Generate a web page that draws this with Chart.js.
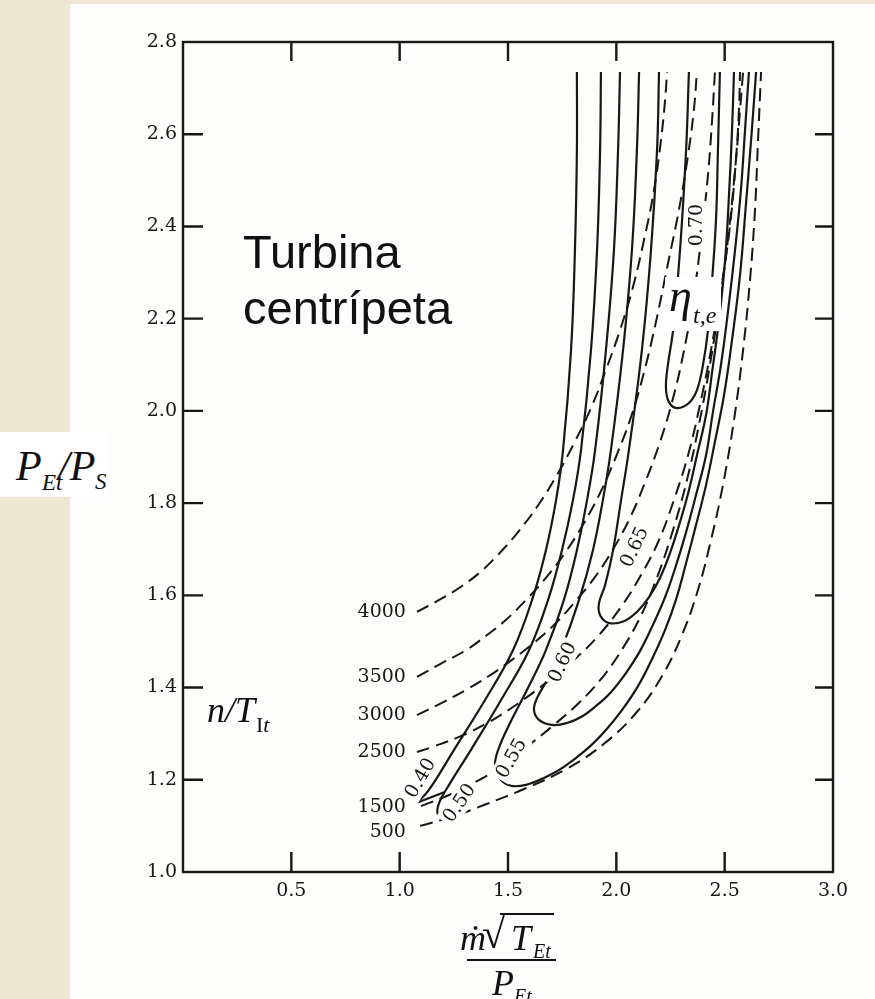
<!DOCTYPE html>
<html lang="pt-BR">
  <head>
    <meta charset="UTF-8" />
    <title>Turbina centrípeta</title>
    <script src="https://cdn.jsdelivr.net/npm/chart.js"></script>
    <style>
      body { margin: 0; width: 875px; height: 999px; background: #efe7d3; position: relative; overflow: hidden; }
      #folha { position: absolute; left: 70px; top: 4px; width: 805px; height: 995px; background: #fdfdfb; }
      #grafico { position: absolute; left: 0; top: 0; }
      .t { position: absolute; color: #111; font-family: "Liberation Serif", serif; font-style: italic; white-space: nowrap; line-height: 1; }
      .caixa { position: absolute; background: #fff; }
      .linha { position: absolute; border-top: 2px solid #111; height: 0; }
    </style>
  </head>
  <body>
    <div id="folha"></div>
    <canvas id="grafico" width="875" height="999"></canvas>

    <div class="t" style="left:243px;top:224px;font:47px 'Liberation Sans',sans-serif;line-height:56px;font-style:normal">Turbina<br />centrípeta</div>

    <div class="caixa" style="left:665px;top:277px;width:56px;height:54px"></div>
    <div class="t" style="left:669px;top:273px;font-size:46px">η</div>
    <div class="t" style="left:693px;top:303px;font-size:24px">t,e</div>

    <div class="caixa" style="left:0;top:432px;width:110px;height:65px"></div>
    <div class="t" style="left:16px;top:445px;font-size:42px">P</div>
    <div class="t" style="left:42px;top:471px;font-size:23px">Et</div>
    <div class="t" style="left:58px;top:445px;font-size:42px">/P</div>
    <div class="t" style="left:95px;top:470px;font-size:23px">S</div>

    <div class="t" style="left:207px;top:692px;font-size:36px">n/T</div>
    <div class="t" style="left:256px;top:714px;font-size:22px"><span style="font-style:normal">I</span>t</div>

    <div class="t" style="left:460px;top:920px;font-size:36px">ṁ</div>
    <div class="t" style="left:482px;top:913px;font-size:42px;font-style:normal">√</div>
    <div class="linha" style="left:500px;top:913px;width:54px"></div>
    <div class="t" style="left:511px;top:920px;font-size:36px">T</div>
    <div class="t" style="left:533px;top:941px;font-size:20px">Et</div>
    <div class="linha" style="left:467px;top:959px;width:89px"></div>
    <div class="t" style="left:492px;top:965px;font-size:36px">P</div>
    <div class="t" style="left:514px;top:986px;font-size:20px">Et</div>
  </body>
</html>

<script>
  const ticksX = [0.5, 1.0, 1.5, 2.0, 2.5, 3.0];
  const ticksY = [1.0, 1.2, 1.4, 1.6, 1.8, 2.0, 2.2, 2.4, 2.6, 2.8];

  // linhas cheias: rendimento (eta t,e)
  const curva040 = [[1.818,2.735],[1.818,2.566],[1.809,2.349],[1.791,2.132],[1.754,1.915],[1.722,1.807],[1.675,1.698],[1.611,1.590],[1.523,1.481],[1.394,1.373],[1.251,1.265],[1.135,1.178],[1.080,1.150]];
  const gancho040 = [[1.080,1.150],[1.205,1.173]];
  const curva050 = [[1.929,2.735],[1.925,2.566],[1.911,2.349],[1.883,2.132],[1.837,1.915],[1.800,1.807],[1.749,1.698],[1.685,1.590],[1.597,1.481],[1.468,1.373],[1.329,1.265],[1.228,1.189],[1.182,1.150],[1.177,1.124],[1.218,1.108]];
  const curva055 = [[2.017,2.735],[2.008,2.566],[1.989,2.349],[1.952,2.132],[1.902,1.915],[1.865,1.807],[1.818,1.698],[1.758,1.590],[1.675,1.481],[1.588,1.395],[1.505,1.319],[1.458,1.269],[1.440,1.232],[1.463,1.202],[1.514,1.187],[1.583,1.189],[1.666,1.204],[1.758,1.228],[1.865,1.267],[1.948,1.306],[2.026,1.351],[2.100,1.403],[2.165,1.462],[2.225,1.525],[2.275,1.590],[2.322,1.670],[2.368,1.753],[2.414,1.839],[2.455,1.933],[2.497,2.034],[2.534,2.154],[2.571,2.295],[2.598,2.447],[2.622,2.587],[2.645,2.735]];
  const curva060 = [[2.105,2.735],[2.095,2.566],[2.072,2.349],[2.031,2.132],[1.975,1.915],[1.938,1.807],[1.892,1.698],[1.828,1.590],[1.745,1.481],[1.680,1.416],[1.634,1.377],[1.620,1.351],[1.643,1.330],[1.703,1.319],[1.772,1.323],[1.837,1.336],[1.906,1.360],[1.975,1.390],[2.045,1.432],[2.109,1.479],[2.169,1.536],[2.225,1.596],[2.275,1.664],[2.322,1.737],[2.368,1.818],[2.414,1.904],[2.446,1.998],[2.483,2.100],[2.515,2.214],[2.548,2.349],[2.575,2.479],[2.594,2.609],[2.612,2.735]];
  const curva065 = [[2.197,2.735],[2.188,2.566],[2.160,2.349],[2.118,2.132],[2.058,1.915],[2.022,1.807],[1.985,1.698],[1.948,1.622],[1.920,1.583],[1.925,1.557],[1.966,1.540],[2.035,1.544],[2.095,1.564],[2.151,1.596],[2.202,1.638],[2.248,1.692],[2.294,1.759],[2.335,1.828],[2.372,1.904],[2.414,1.991],[2.442,2.084],[2.474,2.197],[2.502,2.327],[2.520,2.468],[2.534,2.609],[2.543,2.735]];
  const curva070 = [[2.335,2.735],[2.322,2.566],[2.294,2.349],[2.262,2.175],[2.238,2.100],[2.229,2.050],[2.243,2.019],[2.280,2.006],[2.335,2.017],[2.372,2.045],[2.400,2.100],[2.423,2.175],[2.442,2.284],[2.460,2.414],[2.469,2.566],[2.478,2.735]];

  // linhas tracejadas: rotação n/T
  const vel4000 = [[1.080,1.564],[1.182,1.590],[1.274,1.616],[1.366,1.648],[1.458,1.690],[1.551,1.740],[1.643,1.798],[1.726,1.861],[1.805,1.930],[1.883,2.006],[1.952,2.089],[2.017,2.175],[2.077,2.269],[2.128,2.371],[2.174,2.479],[2.206,2.587],[2.225,2.674],[2.234,2.735]];
  const vel3500 = [[1.080,1.423],[1.195,1.453],[1.306,1.481],[1.398,1.512],[1.491,1.547],[1.583,1.590],[1.675,1.638],[1.763,1.692],[1.846,1.753],[1.925,1.822],[1.998,1.900],[2.068,1.987],[2.128,2.084],[2.183,2.193],[2.234,2.310],[2.289,2.436],[2.331,2.555],[2.358,2.653],[2.372,2.735]];
  const vel3000 = [[1.080,1.340],[1.195,1.367],[1.306,1.395],[1.412,1.425],[1.518,1.460],[1.620,1.497],[1.717,1.538],[1.809,1.586],[1.902,1.640],[1.985,1.700],[2.063,1.768],[2.132,1.844],[2.197,1.926],[2.257,2.019],[2.308,2.121],[2.354,2.240],[2.391,2.371],[2.423,2.512],[2.442,2.631],[2.455,2.735]];
  const vel2500 = [[1.080,1.260],[1.149,1.271],[1.274,1.293],[1.412,1.325],[1.551,1.367],[1.680,1.412],[1.805,1.460],[1.920,1.514],[2.022,1.575],[2.114,1.644],[2.197,1.720],[2.266,1.807],[2.331,1.904],[2.386,2.013],[2.437,2.132],[2.483,2.262],[2.525,2.403],[2.552,2.544],[2.566,2.653],[2.571,2.735]];
  const vel1500 = [[1.098,1.143],[1.228,1.167],[1.357,1.197],[1.482,1.232],[1.597,1.275],[1.712,1.319],[1.828,1.367],[1.934,1.421],[2.031,1.486],[2.118,1.560],[2.192,1.644],[2.262,1.742],[2.326,1.850],[2.381,1.969],[2.432,2.100],[2.478,2.240],[2.520,2.392],[2.552,2.544],[2.571,2.653],[2.585,2.735]];
  const vel500 = [[1.094,1.100],[1.251,1.121],[1.398,1.147],[1.574,1.180],[1.768,1.223],[1.943,1.278],[2.095,1.347],[2.211,1.425],[2.303,1.514],[2.377,1.612],[2.437,1.720],[2.492,1.839],[2.543,1.980],[2.585,2.132],[2.617,2.284],[2.640,2.436],[2.654,2.587],[2.668,2.735]];

  // rótulos das curvas
  const rotulosVel = ["4000", "3500", "3000", "2500", "1500", "500"];
  const rotulosVelY = [1.564, 1.423, 1.340, 1.260, 1.141, 1.087];
  const rotulosVelX = 1.029;
  const rotulosEf = ["0.40", "0.50", "0.55", "0.60", "0.65", "0.70"];
  const rotulosEfX = [1.094, 1.274, 1.514, 1.749, 2.082, 2.368];
  const rotulosEfY = [1.204, 1.150, 1.247, 1.455, 1.705, 2.403];
  const rotulosEfAng = [-60, -55, -60, -65, -65, -90];

  const tinta = "#181716";
  const fonteNum = "DejaVu Serif";

  function serie(dados, tracejada) {
    return {
      data: dados.map((p) => ({ x: p[0], y: p[1] })),
      showLine: true,
      borderColor: tinta,
      borderWidth: tracejada ? 2 : 2.2,
      borderDash: tracejada ? [13, 7] : [],
      pointRadius: 0,
      tension: 0.4,
      fill: false,
    };
  }

  const moldura = {
    id: "moldura",
    afterDatasetsDraw(chart) {
      const { ctx, chartArea: a, scales } = chart;
      const x = scales.x;
      const y = scales.y;
      ctx.save();
      ctx.strokeStyle = tinta;
      ctx.lineWidth = 2.4;
      ctx.strokeRect(a.left, a.top, a.right - a.left, a.bottom - a.top);
      ctx.beginPath();
      ticksX.slice(0, -1).forEach((v) => {
        const px = x.getPixelForValue(v);
        ctx.moveTo(px, a.bottom);
        ctx.lineTo(px, a.bottom - 20);
        ctx.moveTo(px, a.top);
        ctx.lineTo(px, a.top + 19);
      });
      ticksY.slice(1, -1).forEach((v) => {
        const py = y.getPixelForValue(v);
        ctx.moveTo(a.left, py);
        ctx.lineTo(a.left + 20, py);
        ctx.moveTo(a.right, py);
        ctx.lineTo(a.right - 18, py);
      });
      ctx.stroke();

      ctx.fillStyle = tinta;
      ctx.font = '19px "' + fonteNum + '"';
      ctx.textAlign = "right";
      ctx.textBaseline = "middle";
      for (let i = 0; i < rotulosVel.length; i++) {
        ctx.fillText(rotulosVel[i], x.getPixelForValue(rotulosVelX), y.getPixelForValue(rotulosVelY[i]));
      }

      ctx.font = '19px "' + fonteNum + '"';
      ctx.textAlign = "center";
      for (let i = 0; i < rotulosEf.length; i++) {
        ctx.save();
        ctx.translate(x.getPixelForValue(rotulosEfX[i]), y.getPixelForValue(rotulosEfY[i]));
        ctx.rotate((rotulosEfAng[i] * Math.PI) / 180);
        const w = ctx.measureText(rotulosEf[i]).width;
        ctx.fillStyle = "#fdfdfb";
        ctx.fillRect(-w / 2 - 3, -11, w + 6, 22);
        ctx.fillStyle = tinta;
        ctx.fillText(rotulosEf[i], 0, 1);
        ctx.restore();
      }
      ctx.restore();
    },
  };

  new Chart(document.getElementById("grafico"), {
    type: "scatter",
    data: {
      datasets: [
        serie(curva040), serie(gancho040), serie(curva050), serie(curva055),
        serie(curva060), serie(curva065), serie(curva070),
        serie(vel4000, true), serie(vel3500, true), serie(vel3000, true),
        serie(vel2500, true), serie(vel1500, true), serie(vel500, true),
      ],
    },
    options: {
      responsive: false,
      animation: false,
      devicePixelRatio: 1,
      layout: { padding: { left: 0, right: 42, top: 42, bottom: 87 } },
      plugins: { legend: { display: false }, tooltip: { enabled: false } },
      scales: {
        x: {
          type: "linear",
          min: 0,
          max: 3,
          afterBuildTicks: (s) => { s.ticks = ticksX.map((v) => ({ value: v })); },
          afterFit: (s) => { s.height = 40; },
          ticks: {
            callback: (v) => v.toFixed(1),
            font: { family: fonteNum, size: 19 },
            color: tinta,
            padding: 8,
            maxRotation: 0,
          },
          grid: { display: false, drawTicks: false },
          border: { display: false },
        },
        y: {
          type: "linear",
          min: 1.0,
          max: 2.8,
          afterBuildTicks: (s) => { s.ticks = ticksY.map((v) => ({ value: v })); },
          afterFit: (s) => { s.width = 183; },
          ticks: {
            callback: (v) => v.toFixed(1),
            font: { family: fonteNum, size: 19 },
            color: tinta,
            padding: 6,
          },
          grid: { display: false, drawTicks: false },
          border: { display: false },
        },
      },
    },
    plugins: [moldura],
  });
</script>
